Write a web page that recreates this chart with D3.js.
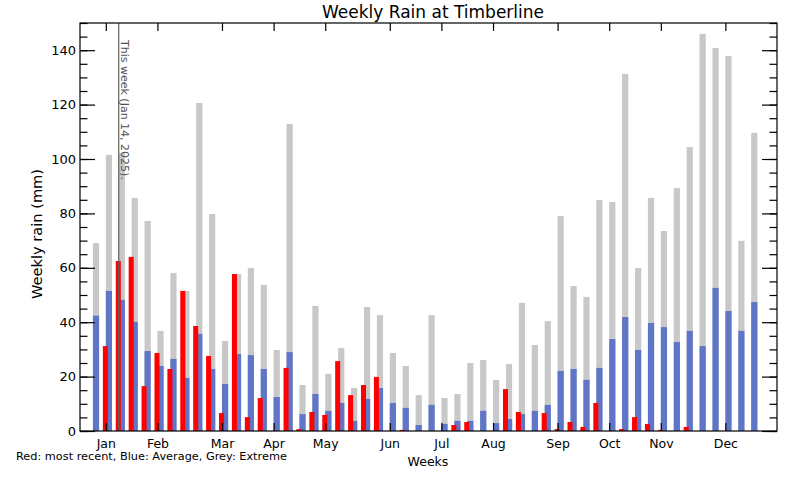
<!DOCTYPE html>
<html>
<head>
<meta charset="utf-8">
<script src="https://cdn.jsdelivr.net/npm/d3@7"></script>
<style>
  html, body { margin: 0; padding: 0; background: #fff; }
  svg { display: block; }
  text { font-family: "DejaVu Sans", sans-serif; fill: #000; }
</style>
</head>
<body>
<svg id="chart" width="800" height="480"></svg>
<script>
// ---- data ----
const weeks = d3.range(1, 53);
const extreme = [69.1, 101.5, 102.2, 85.7, 77.2, 36.8, 58.1, 51.5, 120.6, 79.8, 33.1, 57.7, 59.9,
  53.7, 29.8, 112.9, 16.9, 46.0, 21.0, 30.5, 15.8, 45.6, 42.6, 28.7, 23.9, 13.2,
  42.6, 12.1, 13.6, 25.0, 26.1, 18.8, 24.6, 47.1, 31.6, 40.4, 79.0, 53.3, 49.3,
  84.9, 84.2, 131.3, 59.9, 85.7, 73.5, 89.3, 104.4, 146.0, 140.8, 137.9, 69.9, 109.6];
const average = [42.4, 51.5, 48.2, 40.1, 29.4, 23.9, 26.5, 19.5, 35.7, 22.8, 17.3, 28.3, 27.9,
  22.8, 12.5, 29.0, 6.2, 13.6, 7.4, 10.3, 3.7, 11.8, 15.8, 10.3, 8.5, 2.2,
  9.6, 2.6, 3.7, 3.7, 7.4, 2.9, 4.4, 6.2, 7.4, 9.6, 22.1, 22.8, 18.8,
  23.2, 33.8, 41.9, 29.8, 39.7, 38.2, 32.7, 36.8, 31.2, 52.6, 44.1, 36.8, 47.4];
const recent = [0, 31.2, 62.5, 64.0, 16.5, 28.7, 22.8, 51.5, 38.6, 27.6, 6.6, 57.7, 5.1,
  12.1, 0, 23.2, 0.7, 7.0, 5.9, 25.7, 13.2, 16.9, 19.9, 0, 0.4, 0,
  0, 0, 2.2, 3.3, 0, 0, 15.4, 7.0, 0, 6.6, 0.7, 3.3, 1.5,
  10.3, 0, 0.7, 5.1, 2.6, 0.4, 0, 1.5, 0, 0, 0, 0, 0];
const monthTickWeeks = [2, 6, 11, 15, 19, 24, 28, 32, 37, 41, 45, 50];
const monthLabels = ["Jan","Feb","Mar","Apr","May","Jun","Jul","Aug","Sep","Oct","Nov","Dec"];
const yMajorTicks = [0, 20, 40, 60, 80, 100, 120, 140];
const thisWeek = 3.0;
const thisWeekLabel = "This week (Jan 14, 2025).";

// ---- layout ----
const L = 80, R = 777, T = 23, B = 431;
const svg = d3.select("#chart");
const x = d3.scaleLinear().domain([0, 54]).range([L, R]);
const y = d3.scaleLinear().domain([0, 150]).range([B, T]);

const greyW = 0.48, redOff = -0.23, redW = 0.39;

const bars = svg.append("g");
bars.selectAll("rect.grey").data(weeks).join("rect")
  .attr("x", d => x(d)).attr("width", d => x(d + greyW) - x(d))
  .attr("y", (d, i) => y(extreme[i])).attr("height", (d, i) => y(0) - y(extreme[i]))
  .attr("fill", "#c8c8c8");
bars.selectAll("rect.avg").data(weeks).join("rect")
  .attr("x", d => x(d)).attr("width", d => x(d + greyW) - x(d))
  .attr("y", (d, i) => y(average[i])).attr("height", (d, i) => y(0) - y(average[i]))
  .attr("fill", "#5f75c8");
bars.selectAll("rect.rec").data(weeks.filter((d, i) => recent[i] > 0)).join("rect")
  .attr("x", d => x(d + redOff)).attr("width", d => x(d + redOff + redW) - x(d + redOff))
  .attr("y", d => y(recent[d - 1])).attr("height", d => y(0) - y(recent[d - 1]))
  .attr("fill", "#ff0000");

// this-week marker
svg.append("line")
  .attr("x1", x(thisWeek)).attr("x2", x(thisWeek)).attr("y1", T).attr("y2", B)
  .attr("stroke", "#606060").attr("stroke-width", 1.2);
svg.append("text")
  .attr("transform", `translate(${x(thisWeek) + 2},40) rotate(90)`)
  .attr("font-family", "Liberation Sans, Arial, sans-serif")
  .attr("font-size", 11).style("fill", "#505050")
  .text(thisWeekLabel);

// axes
function styleAxis(g) {
  g.select(".domain").remove();
  g.selectAll(".tick line").attr("stroke", "#000").attr("stroke-width", 1.2);
  g.selectAll("text").attr("font-family", "DejaVu Sans, sans-serif").attr("font-size", 13).attr("fill", "#000");
}
svg.append("g").attr("transform", `translate(${L},0)`)
  .call(d3.axisLeft(y).tickValues(d3.range(0, 151, 5)).tickSize(-7.5).tickSizeOuter(0).tickFormat(""))
  .call(styleAxis);
svg.append("g").attr("transform", `translate(${L},0)`)
  .call(d3.axisLeft(y).tickValues(yMajorTicks).tickSize(-15).tickSizeOuter(0).tickPadding(4).tickFormat(d3.format("d")))
  .call(styleAxis);
svg.append("g").attr("transform", `translate(${R},0)`)
  .call(d3.axisRight(y).tickValues(d3.range(0, 151, 5)).tickSize(-7.5).tickSizeOuter(0).tickFormat(""))
  .call(styleAxis);
svg.append("g").attr("transform", `translate(${R},0)`)
  .call(d3.axisRight(y).tickValues(yMajorTicks).tickSize(-15).tickSizeOuter(0).tickFormat(""))
  .call(styleAxis);
svg.append("g").attr("transform", `translate(0,${T})`)
  .call(d3.axisTop(x).tickValues(monthTickWeeks).tickSize(-8).tickSizeOuter(0).tickFormat(""))
  .call(styleAxis);
svg.append("g").attr("transform", `translate(0,${B})`)
  .call(d3.axisBottom(x).tickValues(monthTickWeeks).tickSize(-8).tickSizeOuter(0).tickPadding(8)
    .tickFormat((d, i) => monthLabels[i]))
  .call(styleAxis)
  .call(g => g.selectAll("text").attr("font-size", 12.5));

// frame
svg.append("rect").attr("x", L).attr("y", T).attr("width", R - L).attr("height", B - T)
  .attr("fill", "none").attr("stroke", "#000").attr("stroke-width", 1.2);

// titles
svg.append("text").attr("x", 433).attr("y", 18).attr("text-anchor", "middle")
  .attr("font-size", 17).text("Weekly Rain at Timberline");
svg.append("text").attr("transform", `translate(42,234) rotate(-90)`)
  .attr("text-anchor", "middle").attr("font-size", 14.6).text("Weekly rain (mm)");
svg.append("text").attr("x", 428).attr("y", 466).attr("text-anchor", "middle")
  .attr("font-size", 12.5).text("Weeks");
svg.append("text").attr("x", 16).attr("y", 459.5)
  .attr("font-size", 11.3).text("Red: most recent, Blue: Average, Grey: Extreme");
</script>
</body>
</html>
